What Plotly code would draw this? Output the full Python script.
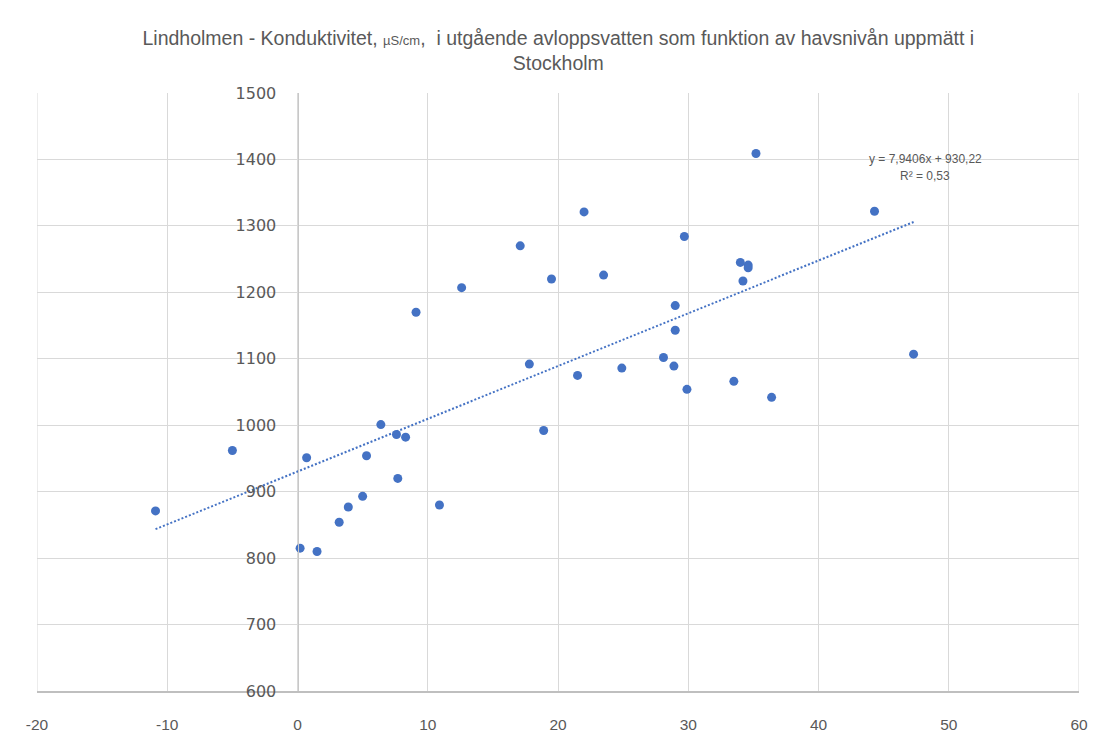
import plotly.graph_objects as go

# Sea level in Stockholm (cm) and outgoing conductivity (µS/cm)
havsniva = [-10.9, -5.0, 0.2, 0.7, 1.5, 3.2, 3.9, 5.0, 5.3, 6.4, 7.6, 7.7, 8.3,
            9.1, 10.9, 12.6, 17.1, 17.8, 18.9, 19.5, 21.5, 22.0, 23.5, 24.9,
            28.1, 28.9, 29.0, 29.0, 29.7, 29.9, 33.5, 34.0, 34.2, 34.6, 34.6,
            35.2, 36.4, 44.3, 47.3]
konduktivitet = [871, 962, 815, 951, 810, 854, 877, 893, 954, 1001, 986, 920, 982,
                 1170, 880, 1207, 1270, 1092, 992, 1220, 1075, 1321, 1226, 1086,
                 1102, 1089, 1180, 1143, 1284, 1054, 1066, 1245, 1217, 1241, 1237,
                 1409, 1042, 1322, 1107]

# Linear trendline as reported
lutning = 7.9406
intercept = 930.22
r2 = 0.53

x_ticks = [-20, -10, 0, 10, 20, 30, 40, 50, 60]
y_ticks = [600, 700, 800, 900, 1000, 1100, 1200, 1300, 1400, 1500]

BLUE = "#4472C4"
GRID = "#d9d9d9"
TXT = "#595959"
SANS = "Liberation Sans, Arial, sans-serif"

fig = go.Figure()

tx = [min(havsniva), max(havsniva)]
fig.add_trace(go.Scatter(
    x=tx, y=[lutning * v + intercept for v in tx],
    mode="lines", line=dict(color=BLUE, width=2, dash="2px,2px"),
    hoverinfo="skip", showlegend=False))

fig.add_trace(go.Scatter(
    x=havsniva, y=konduktivitet, mode="markers",
    marker=dict(color=BLUE, size=9, line=dict(width=0)),
    showlegend=False))

def sv(v, d):
    return f"{v:.{d}f}".replace(".", ",")

fig.add_annotation(x=48.2, y=1401, xref="x", yref="y", showarrow=False,
                   text=f"y = {sv(lutning, 4)}x + {sv(intercept, 2)}",
                   font=dict(family=SANS, size=12, color=TXT))
fig.add_annotation(x=48.2, y=1375, xref="x", yref="y", showarrow=False,
                   text=f"R² = {sv(r2, 2)}",
                   font=dict(family=SANS, size=12, color=TXT))

fig.update_layout(
    width=1099, height=738,
    paper_bgcolor="white", plot_bgcolor="white",
    margin=dict(l=37, r=20, t=93, b=47, autoexpand=False),
    title=dict(
        text="Lindholmen - Konduktivitet, <span style='font-size:13px'>µS/cm</span>,  i utgående avloppsvatten som funktion av havsnivån uppmätt i<br>Stockholm",
        x=0.508, xanchor="center", y=0.939, yanchor="middle",
        font=dict(family=SANS, size=19.5, color=TXT)),
    xaxis=dict(
        range=[-20, 60], tickvals=x_ticks, ticktext=[str(v) for v in x_ticks],
        showgrid=True, gridcolor=GRID, automargin=False,
        gridwidth=1, zeroline=False, showline=True, linecolor="#bfbfbf",
        linewidth=2, mirror=False, ticks="outside", ticklen=18,
        tickcolor="rgba(0,0,0,0)",
        tickfont=dict(family=SANS, size=15.5, color=TXT)),
    yaxis=dict(
        range=[600, 1500], tickvals=y_ticks, showgrid=True, gridcolor=GRID,
        gridwidth=1, zeroline=False, showline=True, linecolor="#c8c8c8",
        linewidth=1, anchor="free", position=0.25, ticks="outside",
        automargin=False, ticklen=18, tickcolor="rgba(0,0,0,0)",
        tickfont=dict(family="DejaVu Sans", size=16, color=TXT)),
)

# left and right plot-area borders at -20 and 60
fig.add_shape(type="line", xref="x", yref="paper", x0=-20, x1=-20, y0=0, y1=1,
              line=dict(color=GRID, width=1))
fig.add_shape(type="line", xref="x", yref="paper", x0=60, x1=60, y0=0, y1=1,
              line=dict(color=GRID, width=1))

fig.write_html("out.html")
